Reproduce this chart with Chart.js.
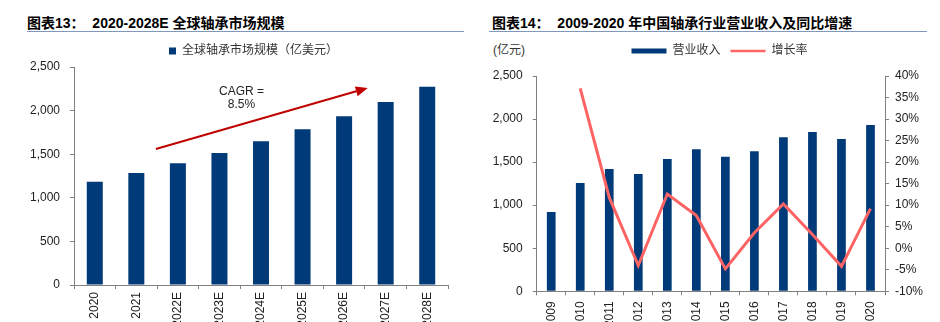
<!DOCTYPE html>
<html>
<head>
<meta charset="utf-8">
<script src="https://cdn.jsdelivr.net/npm/chart.js@4.4.1/dist/chart.umd.min.js"></script>
<style>
  body { margin:0; width:940px; height:322px; overflow:hidden; background:#fff; position:relative;
         font-family:"Liberation Sans","Noto Sans CJK SC",sans-serif; }
  .title { position:absolute; top:14px; font-weight:bold; font-size:14px; color:#000; white-space:pre; line-height:18px; }
  .rule { position:absolute; top:31px; height:1px; background:#7f98bb; }
  .unit { position:absolute; left:493px; top:42px; font-size:12px; color:#333; line-height:16px; }
  canvas { position:absolute; top:38px; }
</style>
</head>
<body>
<div class="title" style="left:27px">图表13：  2020-2028E 全球轴承市场规模</div>
<div class="rule" style="left:27px;width:437px"></div>
<div class="title" style="left:492px">图表14：  2009-2020 年中国轴承行业营业收入及同比增速</div>
<div class="rule" style="left:489px;width:438px"></div>
<div class="unit">(亿元)</div>
<canvas id="globalChart" width="470" height="300" style="left:0"></canvas>
<canvas id="chinaChart" width="470" height="300" style="left:470px"></canvas>
<script>
// left chart: global bearing market (100M USD)
const globalYears = ["2020", "2021", "2022E", "2023E", "2024E", "2025E", "2026E", "2027E", "2028E"];
const globalMarket = [1185, 1284, 1395, 1514, 1648, 1785, 1934, 2098, 2274];
const globalTicks = { min: 0, max: 2500, step: 500 };

// CAGR arrow, in (category index, value)
const cagrFrom = [1.47, 1560];
const cagrTo = [6.57, 2259];
const cagrText = ["CAGR =", "8.5%"];
const cagrTextPos = [3.53, 2217, 2064];

// right chart: China bearing industry revenue (100M CNY) and growth
const chinaYears = ["2009", "2010", "2011", "2012", "2013", "2014", "2015", "2016", "2017", "2018", "2019", "2020"];
const chinaRevenue = [921, 1258, 1420, 1362, 1536, 1649, 1563, 1626, 1788, 1850, 1769, 1931];
const chinaGrowth = [null, 37.1, 11.8, -4.0, 12.6, 7.6, -4.8, 3.6, 10.3, 3.2, -4.2, 9.2];
const revenueTicks = { min: 0, max: 2500, step: 500 };
const growthTicks = { min: -10, max: 40, step: 5 };

const navy = "#003A78";
const red = "#FF6464";
const arrowRed = "#C00000";
const axisGray = "#808080";
const textColor = "#222";
const latin = "'Liberation Sans', 'Noto Sans CJK SC', sans-serif";
const tickFont = { size: 12, family: latin };

// extra room under the legend, and a sideways nudge of the legend
const legendSpacer = {
  id: "legendSpacer",
  beforeLayout(chart, args, opts) {
    const lg = chart.legend;
    if (lg && !lg._spaced) {
      const fit = lg.fit;
      lg.fit = function () {
        fit.call(this);
        this.height += opts.extra || 0;
      };
      lg._spaced = true;
    }
  },
  afterLayout(chart, args, opts) {
    const lg = chart.legend;
    if (lg && opts.shift) {
      lg.left += opts.shift;
      lg.right += opts.shift;
    }
  }
};

const cagrPlugin = {
  id: "cagr",
  afterDatasetsDraw(chart) {
    const { ctx, scales: { x, y } } = chart;
    const x0 = x.getPixelForValue(cagrFrom[0]), y0 = y.getPixelForValue(cagrFrom[1]);
    const x1 = x.getPixelForValue(cagrTo[0]), y1 = y.getPixelForValue(cagrTo[1]);
    const ang = Math.atan2(y1 - y0, x1 - x0);
    const head = 12, half = 5;
    const bx = x1 - head * Math.cos(ang), by = y1 - head * Math.sin(ang);
    ctx.save();
    ctx.strokeStyle = arrowRed;
    ctx.fillStyle = arrowRed;
    ctx.lineWidth = 2;
    ctx.beginPath();
    ctx.moveTo(x0, y0);
    ctx.lineTo(bx, by);
    ctx.stroke();
    ctx.beginPath();
    ctx.moveTo(x1, y1);
    ctx.lineTo(bx + half * Math.sin(ang), by - half * Math.cos(ang));
    ctx.lineTo(bx - half * Math.sin(ang), by + half * Math.cos(ang));
    ctx.closePath();
    ctx.fill();

    ctx.fillStyle = textColor;
    ctx.font = "12px " + latin;
    ctx.textAlign = "center";
    ctx.textBaseline = "middle";
    const tx = x.getPixelForValue(cagrTextPos[0]);
    ctx.fillText(cagrText[0], tx, y.getPixelForValue(cagrTextPos[1]));
    ctx.fillText(cagrText[1], tx, y.getPixelForValue(cagrTextPos[2]));
    ctx.restore();
  }
};

function axisGrid() {
  return { drawOnChartArea: false, drawTicks: true, tickLength: 4, color: axisGray };
}

new Chart(document.getElementById("globalChart"), {
  type: "bar",
  data: {
    labels: globalYears,
    datasets: [{
      label: "全球轴承市场规模（亿美元）",
      data: globalMarket,
      backgroundColor: navy,
      borderWidth: 0,
      barPercentage: 0.385,
      categoryPercentage: 1
    }]
  },
  options: {
    responsive: false,
    animation: false,
    devicePixelRatio: 1,
    layout: { padding: { left: 0, right: 22, top: 2, bottom: 0 } },
    plugins: {
      legend: {
        position: "top",
        labels: { boxWidth: 7, boxHeight: 7, padding: 5, color: "#333", font: { size: 12, family: latin } }
      },
      tooltip: { enabled: false },
      legendSpacer: { extra: 0, shift: 29.5 }
    },
    scales: {
      x: {
        grid: Object.assign(axisGrid(), { offset: true }),
        border: { color: axisGray },
        ticks: { minRotation: 90, maxRotation: 90, autoSkip: false, padding: 3, color: textColor, font: tickFont },
        afterFit(s) { s.height = 53; }
      },
      y: {
        min: globalTicks.min,
        max: globalTicks.max,
        ticks: { stepSize: globalTicks.step, padding: 10, color: textColor, font: tickFont },
        grid: axisGrid(),
        border: { color: axisGray },
        afterFit(s) { s.width = 74; }
      }
    }
  },
  plugins: [legendSpacer, cagrPlugin]
});

new Chart(document.getElementById("chinaChart"), {
  data: {
    labels: chinaYears,
    datasets: [
      {
        type: "bar",
        label: "营业收入",
        data: chinaRevenue,
        backgroundColor: navy,
        borderWidth: 0,
        barPercentage: 0.3,
        categoryPercentage: 1,
        yAxisID: "y",
        order: 1
      },
      {
        type: "line",
        label: "增长率",
        data: chinaGrowth,
        borderColor: red,
        backgroundColor: red,
        borderWidth: 3,
        pointRadius: 0,
        tension: 0,
        yAxisID: "y1",
        order: 0
      }
    ]
  },
  options: {
    responsive: false,
    animation: false,
    devicePixelRatio: 1,
    layout: { padding: { left: 0, right: 0, top: -3, bottom: 0 } },
    plugins: {
      legend: {
        position: "top",
        labels: {
          usePointStyle: true,
          pointStyleWidth: 35,
          padding: 10,
          color: "#333",
          font: { size: 12, family: latin },
          generateLabels: () => [
            { text: "营业收入", fillStyle: navy, strokeStyle: navy, lineWidth: 5, pointStyle: "line", hidden: false, datasetIndex: 0, fontColor: "#333" },
            { text: "增长率", fillStyle: red, strokeStyle: red, lineWidth: 2.5, pointStyle: "line", hidden: false, datasetIndex: 1, fontColor: "#333" }
          ]
        }
      },
      tooltip: { enabled: false },
      legendSpacer: { extra: 9, shift: 14.5 }
    },
    scales: {
      x: {
        grid: Object.assign(axisGrid(), { offset: true }),
        border: { color: axisGray },
        ticks: { minRotation: 90, maxRotation: 90, autoSkip: false, padding: 6, color: textColor, font: tickFont },
        afterFit(s) { s.height = 46.7; }
      },
      y: {
        position: "left",
        min: revenueTicks.min,
        max: revenueTicks.max,
        ticks: { stepSize: revenueTicks.step, padding: 10, color: textColor, font: tickFont },
        grid: axisGrid(),
        border: { color: axisGray },
        afterFit(s) { s.width = 66.7; }
      },
      y1: {
        position: "right",
        min: growthTicks.min,
        max: growthTicks.max,
        ticks: { stepSize: growthTicks.step, padding: 6, color: textColor, font: tickFont, callback: v => v + "%" },
        grid: axisGrid(),
        border: { color: axisGray },
        afterFit(s) { s.width = 55; }
      }
    }
  },
  plugins: [legendSpacer]
});
</script>
</body>
</html>
